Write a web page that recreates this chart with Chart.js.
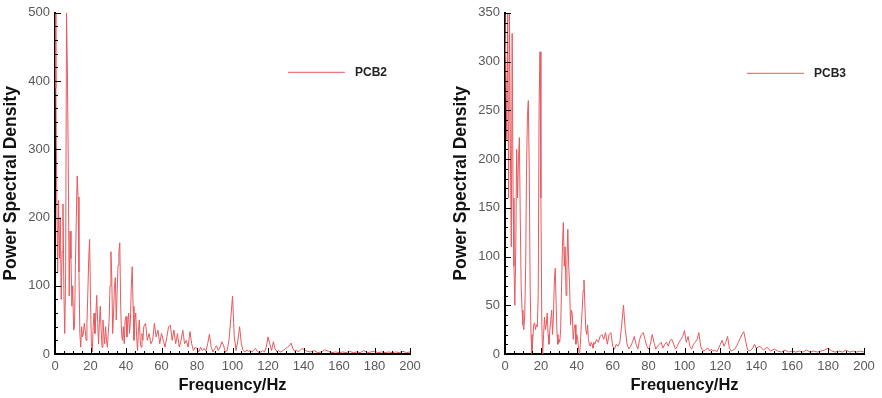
<!DOCTYPE html>
<html>
<head>
<meta charset="utf-8">
<script src="https://cdn.jsdelivr.net/npm/chart.js@4.4.1/dist/chart.umd.min.js"></script>
<style>
	html, body { margin: 0; padding: 0; background: #fff; }
	#wrap { position: relative; width: 882px; height: 398px; }
	.box { position: absolute; top: 0; height: 398px; }
	#left { left: 0; width: 440px; }
	#right { left: 450px; width: 432px; }
</style>
</head>
<body>
<div id="wrap">
	<div class="box" id="left"><canvas id="pcb2Chart" width="440" height="398"></canvas></div>
	<div class="box" id="right"><canvas id="pcb3Chart" width="432" height="398"></canvas></div>
</div>
<script>
// Frequency samples (Hz), shared by both spectra
const freq = [
	0,0.5,1,1.5,2,2.5,3,3.5,4,4.5,5,5.5,6,6.5,7,7.5,8,8.5,9,9.5,
	10,10.5,11,11.5,12,12.5,13,13.5,14,14.5,15,15.5,16,16.5,17,17.5,18,18.5,19,19.5,
	20,20.5,21,21.5,22,22.5,23,23.5,24,24.5,25,25.5,26,26.5,27,27.5,28,28.5,29,29.5,
	30,30.5,31,31.5,32,32.5,33,33.5,34,34.5,35,35.5,36,36.5,37,37.5,38,38.5,39,39.5,
	40,40.5,41,41.5,42,42.5,43,43.5,44,44.5,45,45.5,46,46.5,47,47.5,48,48.5,49,49.5,
	50,51,52,53,54,55,56,57,58,59,
	60,61,62,63,64,65,66,67,68,69,
	70,71,72,73,74,75,76,77,78,79,
	80,81,82,83,84,85,86,87,88,89,
	90,91,92,93,94,95,96,97,98,99,
	100,101,102,103,104,105,106,107,108,109,
	110,111,112,113,114,115,116,117,118,119,
	120,121,122,123,124,125,126,127,128,129,
	130,131,132,133,134,135,136,137,138,139,
	140,142,144,146,148,150,152,154,156,158,
	160,162,164,166,168,170,172,174,176,178,
	180,182,184,186,188,190,192,194,196,198,200
];

// PCB2 power spectral density
const psdPCB2 = [
	500,390,230,120,225,140,200,80,150,220,90,30,120,500,410,270,85,180,140,70,
	100,35,40,130,200,261,230,120,30,10,40,25,30,45,35,20,45,90,140,168,
	80,15,3,40,60,30,55,86,50,15,45,70,35,10,50,30,15,40,20,10,
	30,50,100,150,110,30,60,100,112,50,90,130,150,163,70,30,20,40,15,50,
	55,25,45,60,30,50,100,128,70,20,50,60,25,5,35,50,20,10,30,20,
	40,45,20,30,15,20,45,25,35,15,
	30,20,10,25,40,42,20,35,15,30,
	10,20,35,15,20,10,33,15,5,10,
	8,3,10,5,8,4,15,29,10,3,
	8,12,5,10,18,12,3,5,20,50,
	85,25,5,20,40,15,5,3,6,4,
	5,3,6,8,4,2,3,5,3,10,
	25,15,5,18,8,3,5,3,4,6,
	8,10,12,16,8,4,6,3,5,8,
	7,4,3,5,2,3,6,4,2,3,
	2,3,2,4,2,3,2,5,2,3,
	4,2,3,2,3,2,3,2,4,2,3
];

// PCB3 power spectral density
const psdPCB3 = [
	350,350,220,350,160,350,210,110,329,160,90,50,110,210,160,200,222,140,70,45,
	30,25,40,90,190,245,260,190,70,20,0,15,30,32,25,30,28,60,256,310,
	160,30,0,20,38,25,30,42,20,10,25,35,45,20,40,75,88,50,20,10,
	15,12,25,70,110,135,90,110,60,95,128,90,70,30,45,40,15,25,30,10,
	20,15,5,0,10,30,45,65,76,50,25,20,30,15,10,8,12,10,6,12,
	10,15,12,18,20,15,22,10,20,22,
	8,5,10,8,12,30,50,25,10,5,
	8,12,18,10,5,15,20,22,15,8,
	5,10,20,12,5,8,10,12,6,10,
	12,8,14,15,10,5,8,12,15,18,
	24,12,18,8,5,10,12,15,22,8,
	4,3,5,6,3,5,3,4,2,6,
	10,14,8,12,18,6,3,4,5,8,
	12,16,20,23,14,5,3,4,6,10,
	6,8,4,7,3,5,3,2,4,2,
	3,2,3,2,4,2,3,2,3,4,
	6,3,2,3,2,4,2,3,2,3,2
];

const xTicks = [0, 20, 40, 60, 80, 100, 120, 140, 160, 180, 200];

const lineColor = '#e85a5e';
Chart.defaults.font.family = 'Arial, "Liberation Sans", sans-serif';

// inward major/minor tick marks and the small legend inside the plot
const insideTicks = {
	id: 'insideTicks',
	afterDraw(chart, args, opts) {
		const ctx = chart.ctx;
		const area = chart.chartArea;
		const xs = chart.scales.x;
		const ys = chart.scales.y;
		ctx.save();
		ctx.strokeStyle = '#000';
		ctx.lineWidth = 1;
		ctx.beginPath();
		for (let v = xs.min; v <= xs.max; v += opts.xMinor) {
			const px = Math.round(xs.getPixelForValue(v)) + 0.5;
			const len = (v % opts.xMajor === 0) ? 6 : 3;
			ctx.moveTo(px, area.bottom);
			ctx.lineTo(px, area.bottom - len);
		}
		for (let v = ys.min; v <= ys.max; v += opts.yMinor) {
			const py = Math.round(ys.getPixelForValue(v)) + 0.5;
			const len = (v % opts.yMajor === 0) ? 6 : 3;
			ctx.moveTo(area.left, py);
			ctx.lineTo(area.left + len, py);
		}
		ctx.stroke();

		// legend
		const ds = chart.data.datasets[0];
		const lx = area.left + opts.legendX;
		const ly = area.top + opts.legendY;
		ctx.beginPath();
		ctx.strokeStyle = ds.borderColor;
		ctx.lineWidth = 1;
		ctx.moveTo(lx, ly + 0.5);
		ctx.lineTo(lx + 57, ly + 0.5);
		ctx.stroke();
		ctx.fillStyle = '#222';
		ctx.font = 'bold 12px Arial, "Liberation Sans", sans-serif';
		ctx.textBaseline = 'middle';
		ctx.fillText(ds.label, lx + 67, ly + 1);
		ctx.restore();
	}
};

function makeChart(canvasId, label, values, yMax, yStep, yMinor, rightPad, legendX, legendY) {
	const ctx = document.getElementById(canvasId);
	return new Chart(ctx, {
		type: 'line',
		data: {
			datasets: [{
				label: label,
				data: freq.map((f, i) => ({ x: f, y: values[i] })),
				borderColor: lineColor,
				borderWidth: 1,
				pointRadius: 0,
				tension: 0,
				fill: false
			}]
		},
		options: {
			responsive: false,
			animation: false,
			layout: {
				padding: { left: 0, right: rightPad, top: 11, bottom: 0 }
			},
			plugins: {
				legend: { display: false },
				tooltip: { enabled: false },
				insideTicks: {
					xMinor: 5, xMajor: 20,
					yMinor: yMinor, yMajor: yStep,
					legendX: legendX, legendY: legendY
				}
			},
			scales: {
				x: {
					type: 'linear',
					min: 0,
					max: 200,
					afterBuildTicks: (scale) => {
						scale.ticks = xTicks.map(v => ({ value: v }));
					},
					afterFit: (scale) => { scale.height = 44; },
					grid: { display: true, drawOnChartArea: false, drawTicks: false },
					border: { display: true, color: '#000', width: 2 },
					ticks: {
						color: '#5a5a5a',
						font: { size: 13 },
						padding: 5,
						maxRotation: 0
					},
					title: {
						display: true,
						text: 'Frequency/Hz',
						color: '#111',
						font: { size: 16.5, weight: 'bold' },
						padding: { top: 0, bottom: 3 }
					}
				},
				y: {
					min: 0,
					max: yMax,
					afterFit: (scale) => { scale.width = 55; },
					grid: { display: true, drawOnChartArea: false, drawTicks: false },
					border: { display: true, color: '#000', width: 2 },
					ticks: {
						stepSize: yStep,
						color: '#5a5a5a',
						font: { size: 13 },
						padding: 5
					},
					title: {
						display: true,
						text: 'Power Spectral Density',
						color: '#111',
						font: { size: 17.5, weight: 'bold' },
						padding: { top: 1, bottom: 0 }
					}
				}
			}
		},
		plugins: [insideTicks]
	});
}

window.addEventListener('load', function() {
	makeChart('pcb2Chart', 'PCB2', psdPCB2, 500, 100, 20, 30, 233, 59);
	makeChart('pcb3Chart', 'PCB3', psdPCB3, 350, 50, 10, 18, 242, 60);
});
</script>
</body>
</html>
